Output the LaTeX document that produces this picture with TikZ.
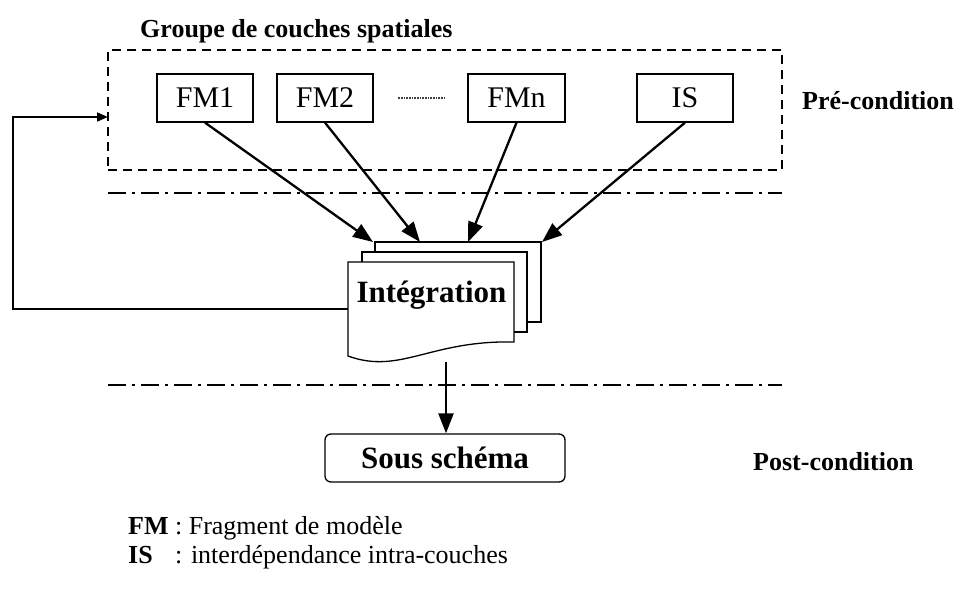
\documentclass[tikz,border=0pt]{standalone}
\usepackage{fontspec}
\setmainfont{Liberation Serif}
\usetikzlibrary{positioning,arrows.meta,calc}

\tikzset{
  boite/.style={draw, line width=1.3pt, minimum width=96, minimum height=48,
                inner sep=0pt, font=\fontsize{30}{32}\selectfont},
  groupe/.style={draw, line width=1.2pt, dash pattern=on 9pt off 6pt,
                 minimum width=674, minimum height=120, inner sep=0pt},
  etiquette/.style={font=\fontsize{26}{29}\selectfont\bfseries, inner sep=0pt},
  grand/.style={font=\fontsize{31}{34}\selectfont\bfseries, inner sep=0pt},
  fleche/.style={line width=2.3pt, -{Triangle[length=20pt,width=15pt]}},
  retour/.style={line width=1.6pt, -{Triangle[length=11pt,width=9pt]}},
  separation/.style={line width=1.2pt, dash pattern=on 18pt off 6pt on 3pt off 6pt},
  page/.style={draw, line width=1.3pt, fill=white},
}

\begin{document}
\begin{tikzpicture}[x=1pt, y=-1pt]
    \useasboundingbox (0,0) rectangle (958,599);
    % groupe de couches (pré-condition)
    \node[groupe] (groupe) at (445,110) {};
    \node[etiquette, anchor=base west] (titre) at (140,38) {Groupe de couches spatiales};
    \node[boite] (fm1) at (205,98) {FM1};
    \node[boite] (fm2) at (325,98) {FM2};
    \node[boite, minimum width=97] (fmn) at (516.5,98) {FMn};
    \node[boite] (is) at (685,98) {IS};
    \draw[black!75, line width=1.2pt, dash pattern=on 1pt off 0.6pt] ([xshift=24pt]fm2.east) -- ([xshift=-23pt]fmn.west);
    \node[etiquette, anchor=base west] (pre) at (802,110) {Pré-condition};
    % séparations
    \draw[separation] (108,193) -- (782,193);
    \draw[separation] (108,385) -- (782,385);
    % pile de documents
    \draw[page] (375,242) rectangle (541,322);
    \draw[page] (362,252) rectangle (527,332);
    \draw[page] (348,262) -- (514,262) -- (514,342)
      .. controls (430,340) and (400,375) .. (348,356) -- cycle;
    \node[grand, anchor=base] (integ) at (431.5,302) {Intégration};
    \coordinate (c1) at (373,242);
    \coordinate (c2) at (420,242);
    \coordinate (c3) at (468,242);
    \coordinate (c4) at (542,242);
    \coordinate (sortie) at (446,362);
    \coordinate (gauche) at (348,309);
    \coordinate (entree) at (108,117);
    \draw[fleche] (fm1.south) -- (c1);
    \draw[fleche] (fm2.south) -- (c2);
    \draw[fleche] (fmn.south) -- (c3);
    \draw[fleche] (is.south) -- (c4);
    \draw[retour] (gauche) -- (13,309) -- (13,117) -- (entree);
    % post-condition
    \node[draw, line width=1.3pt, rounded corners=6pt, minimum width=240, minimum height=48,
          grand] (sous) at (445,458) {Sous schéma};
    \draw[fleche] (sortie) -- (sortie |- sous.north);
    \node[etiquette, anchor=base west] (post) at (753,470) {Post-condition};
    % légende
    \node[anchor=base west, inner sep=0pt, align=left, font=\fontsize{26}{29}\selectfont] (legende) at (128,563)
      {\textbf{FM} : Fragment de modèle\\
       \rlap{\textbf{IS}}\phantom{\textbf{FM}} : interdépendance intra-couches};
\end{tikzpicture}
\end{document}
